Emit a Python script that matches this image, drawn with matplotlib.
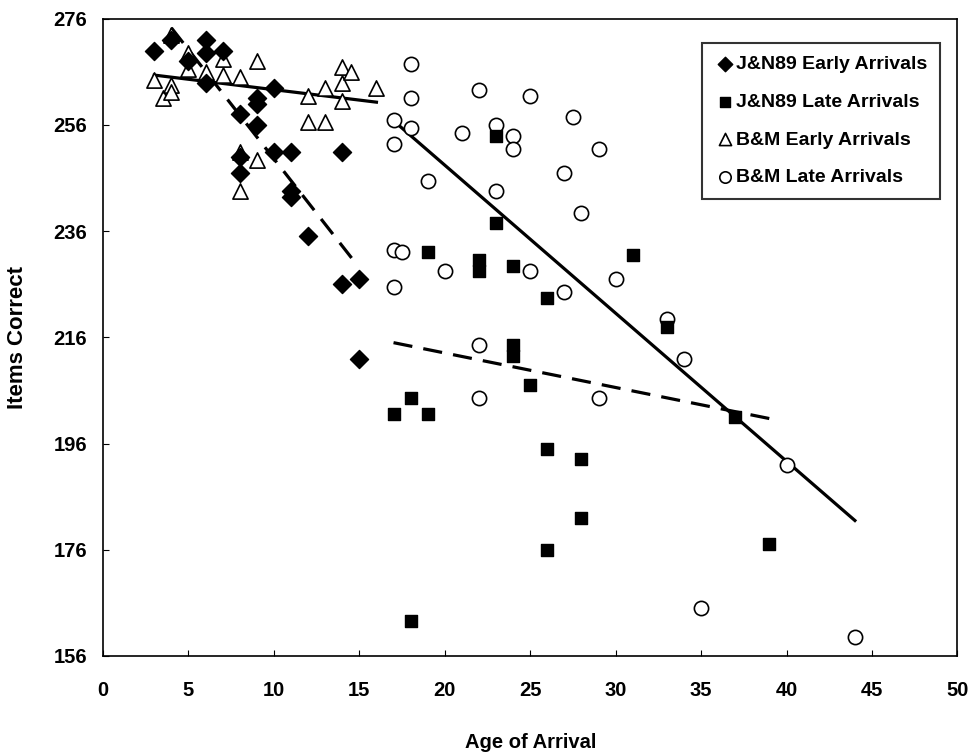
import matplotlib.pyplot as plt
import numpy as np

plt.rcParams['font.family'] = ['Liberation Sans', 'DejaVu Sans']

# J&N89 early arrivals (diamonds)
jn_early_x = [3, 4, 5, 6, 6, 6, 7, 8, 8, 8, 9, 9, 9, 10, 10, 11, 11, 11, 12, 14, 14, 15, 15]
jn_early_y = [270, 272, 268, 272, 269.5, 264, 270, 258, 250, 247, 261, 260, 256, 263, 251, 251, 242.5, 243.5, 235, 251, 226, 227, 212]

# J&N89 late arrivals (squares)
jn_late_x = [17, 18, 18, 19, 19, 22, 22, 23, 23, 24, 24, 24, 25, 26, 26, 26, 28, 28, 31, 33, 37, 39]
jn_late_y = [201.5, 204.5, 162.5, 232, 201.5, 230.5, 228.5, 254, 237.5, 229.5, 214.5, 212.5, 207,
             223.5, 195, 176, 193, 182, 231.5, 218, 201, 177]

# B&M early arrivals (triangles)
bm_early_x = [3, 3.5, 4, 4, 4, 5, 5, 6, 7, 7, 8, 8, 8, 9, 9, 12, 12, 13, 13, 14, 14, 14, 14.5, 16]
bm_early_y = [264.5, 261, 273, 263.5, 262.3, 269.5, 266.5, 266, 268.5, 265.5, 265, 251, 243.5, 268, 249.5,
              261.5, 256.5, 263, 256.5, 267, 264, 260.5, 266, 263]

# B&M late arrivals (circles)
bm_late_x = [17, 17, 17, 17.5, 17, 18, 18, 18, 19, 20, 21, 22, 22, 22, 23, 23, 24, 24, 25, 25, 27,
             27, 27.5, 28, 29, 29, 30, 33, 34, 35, 40, 44]
bm_late_y = [257, 252.5, 232.5, 232, 225.5, 267.5, 261, 255.5, 245.5, 228.5, 254.5, 262.5, 214.5, 204.5,
             256, 243.5, 254, 251.5, 261.5, 228.5, 247, 224.5, 257.5, 239.5, 251.5, 204.5, 227, 219.5,
             212, 165, 192, 159.5]

# fitted trend lines as (x start, x end), (y start, y end)
fit_jn_early = ([4, 14.9], [274.3, 229.5])
fit_jn_late = ([17, 39], [215, 200.7])
fit_bm_early = ([3, 16], [265.4, 260.3])
fit_bm_late = ([17, 44], [256.8, 181.5])

fig = plt.figure(figsize=(9.72, 7.53), dpi=100)
ax = fig.add_axes([0.106, 0.129, 0.879, 0.846])

ax.plot(*fit_jn_early, color='black', lw=2.3, ls=(0, (6, 3.5)), zorder=2)
ax.plot(*fit_jn_late, color='black', lw=2.3, ls=(0, (6, 3.5)), zorder=2)
ax.plot(*fit_bm_early, color='black', lw=2.3, zorder=2)
ax.plot(*fit_bm_late, color='black', lw=2.3, zorder=2)

ax.scatter(bm_early_x, bm_early_y, marker='^', s=120, facecolors='white', edgecolors='black',
           linewidths=1.2, label='B&M Early Arrivals', zorder=3)
ax.scatter(bm_late_x, bm_late_y, marker='o', s=105, facecolors='white', edgecolors='black',
           linewidths=1.2, label='B&M Late Arrivals', zorder=3)
ax.scatter(jn_early_x, jn_early_y, marker='D', s=85, color='black', label='J&N89 Early Arrivals', zorder=4)
ax.scatter(jn_late_x, jn_late_y, marker='s', s=85, color='black', label='J&N89 Late Arrivals', zorder=4)

ax.set_xlim(0, 50)
ax.set_ylim(156, 276)
ax.set_xticks(np.arange(0, 51, 5))
ax.set_yticks(np.arange(156, 277, 20))
ax.tick_params(direction='in', length=4, labelsize=14.5)
ax.tick_params(axis='x', pad=18)
ax.tick_params(axis='y', pad=11.5)
for lab in ax.get_xticklabels() + ax.get_yticklabels():
    lab.set_fontweight('bold')
for sp in ax.spines.values():
    sp.set_linewidth(1.2)

ax.set_xlabel('Age of Arrival', fontsize=14.5, fontweight='bold')
ax.set_ylabel('Items Correct', fontsize=16, fontweight='bold')
ax.xaxis.set_label_coords(0.5, -0.121)
ax.yaxis.set_label_coords(-0.088, 0.5)

h, l = ax.get_legend_handles_labels()
order = [2, 3, 0, 1]
leg = ax.legend([h[i] for i in order], [l[i] for i in order], loc='upper right',
                bbox_to_anchor=(0.980, 0.962), borderaxespad=0, fontsize=14, frameon=True,
                fancybox=False, edgecolor='black', handletextpad=0.1, labelspacing=1.03,
                borderpad=0.65, handlelength=1.0, markerscale=0.8)
leg.get_frame().set_linewidth(1.5)
for t in leg.get_texts():
    t.set_fontweight('bold')

fig.savefig('out.png', dpi=100)
